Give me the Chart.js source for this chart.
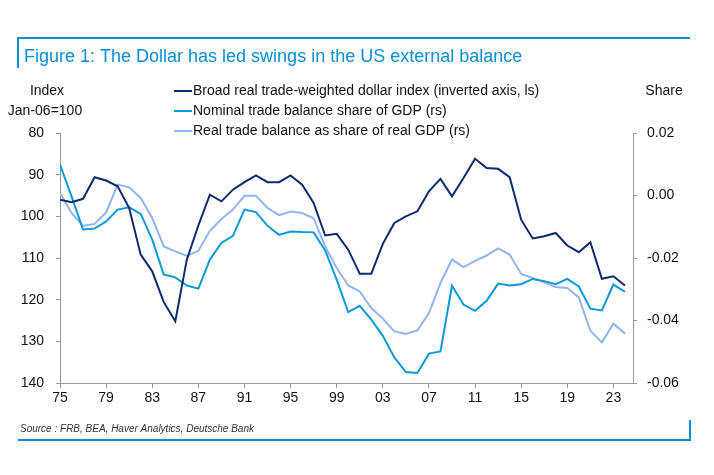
<!DOCTYPE html>
<html>
<head>
  <meta charset="UTF-8">
  <title>Figure 1</title>
  <script src="https://cdn.jsdelivr.net/npm/chart.js"></script>
  <style>
    body { margin: 0; background: #fff; }
  </style>
</head>
<body>
  <canvas id="graphCanvas" width="714" height="475"></canvas>
  <script>
    // annual points 1975..2024
    const years = [];
    for (let y = 1975; y <= 2024; y++) years.push(y);

    const dollarIndex = [96, 96.6, 95.8, 90.6, 91.4, 92.8, 98, 109.2, 113.2, 120.6,
      125.2, 110.4, 102.2, 94.8, 96.4, 93.6, 91.8, 90.2, 91.8, 91.8,
      90.2, 92.4, 96.8, 104.6, 104.2, 108, 113.8, 113.8, 106.6, 101.6,
      100, 98.8, 94, 91, 95.2, 90.8, 86.2, 88.4, 88.6, 90.6,
      100.8, 105.3, 104.8, 104, 107, 108.6, 106.2, 115, 114.4, 116.6];

    const nominalShare = [0.0099, -0.0003, -0.0109, -0.0106, -0.0083, -0.0045, -0.0038, -0.0059, -0.0141, -0.0253,
      -0.0262, -0.0288, -0.0298, -0.0205, -0.0152, -0.0129, -0.0045, -0.0053, -0.0097, -0.0126,
      -0.0115, -0.0117, -0.0118, -0.0176, -0.0269, -0.0373, -0.0353, -0.0397, -0.0449, -0.0518,
      -0.0565, -0.0568, -0.0506, -0.0499, -0.0289, -0.0349, -0.0369, -0.0337, -0.0282, -0.0288,
      -0.0284, -0.0267, -0.0274, -0.0284, -0.0267, -0.0291, -0.0362, -0.0368, -0.0285, -0.0308];

    const realShare = [0.0008, -0.0056, -0.0097, -0.0091, -0.0054, 0.0035, 0.0026, -0.0008, -0.0072, -0.0163,
      -0.0179, -0.0193, -0.0177, -0.0113, -0.0075, -0.0045, -0.0001, -0.0001, -0.004, -0.0063,
      -0.0051, -0.0056, -0.0073, -0.0163, -0.0232, -0.0288, -0.0307, -0.036, -0.0394, -0.0435,
      -0.0443, -0.0432, -0.0376, -0.028, -0.0205, -0.0229, -0.0209, -0.0192, -0.0169, -0.0189,
      -0.0251, -0.0264, -0.0278, -0.0293, -0.0296, -0.0326, -0.0433, -0.047, -0.041, -0.0442];

    const seriesNames = [
      'Broad real trade-weighted dollar index (inverted axis, ls)',
      'Nominal trade balance share of GDP (rs)',
      'Real trade balance as share of real GDP (rs)'
    ];
    const seriesColors = ['#0d2a6b', '#0a9ad8', '#93b5ef'];

    const FONT = 'Liberation Sans, Arial, sans-serif';
    const BLUE = '#0a8fd4';

    function pts(vals) {
      return vals.map((v, i) => ({ x: years[i], y: v }));
    }

    const decor = {
      id: 'decor',
      afterDraw(chart) {
        const c = chart.ctx;
        c.save();
        // frame
        c.strokeStyle = BLUE;
        c.lineWidth = 2;
        c.beginPath();
        c.moveTo(18, 68); c.lineTo(18, 38); c.lineTo(690, 38);
        c.moveTo(18, 440); c.lineTo(690, 440); c.lineTo(690, 420);
        c.stroke();
        // title
        c.fillStyle = BLUE;
        c.font = '18px ' + FONT;
        c.textBaseline = 'middle';
        c.fillText('Figure 1: The Dollar has led swings in the US external balance', 24, 57);
        // axis captions
        c.fillStyle = '#111';
        c.font = '14px ' + FONT;
        c.textAlign = 'center';
        c.fillText('Index', 47, 91);
        c.fillText('Jan-06=100', 45, 111);
        c.fillText('Share', 664, 91);
        // legend
        c.textAlign = 'left';
        seriesNames.forEach((n, i) => {
          const y = 91 + i * 20;
          c.strokeStyle = seriesColors[i];
          c.lineWidth = 2;
          c.beginPath(); c.moveTo(174, y); c.lineTo(192, y); c.stroke();
          c.fillText(n, 193, y);
        });
        // source
        c.font = 'italic 10px ' + FONT;
        c.fillStyle = '#333';
        c.fillText('Source : FRB, BEA, Haver Analytics, Deutsche Bank', 20, 429);
        c.restore();
      }
    };

    const chartdata = {
      datasets: [
        { label: seriesNames[0], data: pts(dollarIndex), yAxisID: 'yL', borderColor: seriesColors[0] },
        { label: seriesNames[1], data: pts(nominalShare), yAxisID: 'yR', borderColor: seriesColors[1] },
        { label: seriesNames[2], data: pts(realShare), yAxisID: 'yR', borderColor: seriesColors[2] }
      ]
    };

    const axisBorder = { display: true, color: '#999', width: 1 };
    const tickFont = { family: FONT, size: 14 };

    new Chart(document.getElementById('graphCanvas'), {
      type: 'line',
      data: chartdata,
      options: {
        responsive: false,
        animation: false,
        layout: { padding: { top: 133, left: 0, right: 0, bottom: 0 } },
        elements: { point: { radius: 0 }, line: { borderWidth: 2, tension: 0 } },
        plugins: { legend: { display: false }, tooltip: { enabled: false } },
        scales: {
          x: {
            type: 'linear', min: 1975, max: 2024.7,
            afterFit(s) { s.height = 92; },
            afterBuildTicks(s) { s.ticks = []; for (let y = 1975; y <= 2023; y += 4) s.ticks.push({ value: y }); },
            ticks: { color: '#111', font: tickFont, padding: 2, maxRotation: 0,
              callback: v => String(v).slice(2) },
            grid: { drawOnChartArea: false, color: '#999', tickLength: 5 },
            border: axisBorder
          },
          yL: {
            position: 'left', reverse: true, min: 80, max: 140,
            afterFit(s) { s.width = 60; },
            ticks: { stepSize: 10, color: '#111', font: tickFont, padding: 12 },
            grid: { drawOnChartArea: false, color: '#999', tickLength: 4 },
            border: axisBorder
          },
          yR: {
            position: 'right', min: -0.06, max: 0.02,
            afterFit(s) { s.width = 81; },
            ticks: { stepSize: 0.02, color: '#111', font: tickFont, padding: 10,
              callback: v => v.toFixed(2) },
            grid: { drawOnChartArea: false, color: '#999', tickLength: 4 },
            border: axisBorder
          }
        }
      },
      plugins: [decor]
    });
  </script>
</body>
</html>
